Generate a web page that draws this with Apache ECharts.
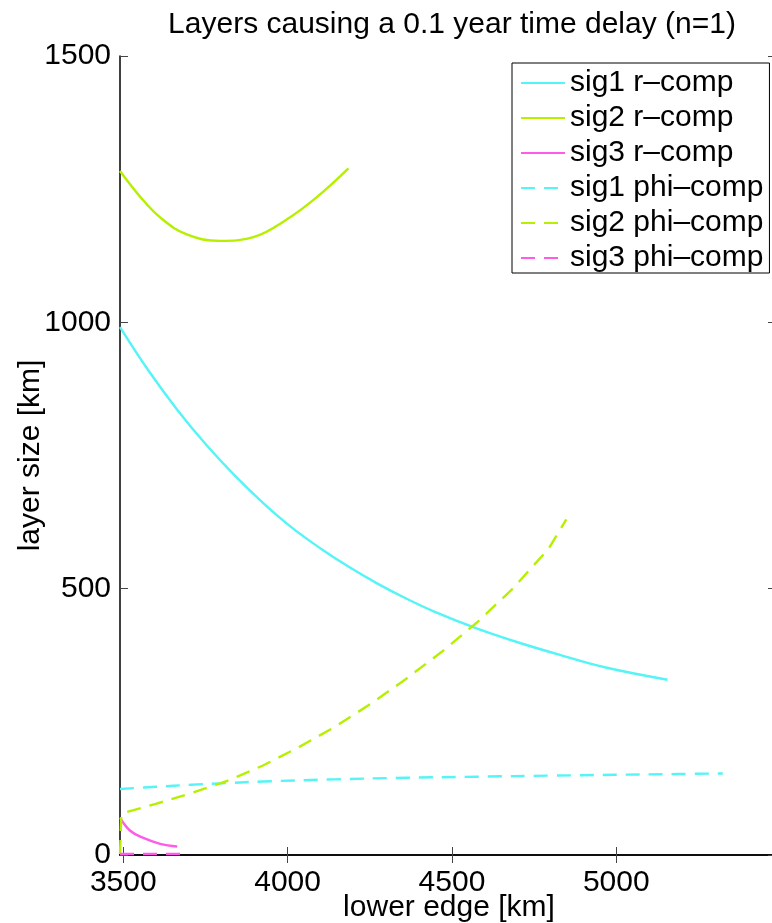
<!DOCTYPE html>
<html>
<head>
<meta charset="utf-8">
<script src="https://cdn.jsdelivr.net/npm/echarts@6/dist/echarts.min.js"></script>
<style>
  html, body { margin: 0; padding: 0; background: #fff; }
  #chart { width: 772px; height: 923px; }
</style>
</head>
<body>
<div id="chart"></div>
<script>
/* Layers causing a 0.1 year time delay */
const xTicks = [3500, 4000, 4500, 5000];
const yTicks = [0, 500, 1000, 1500];

// sig1 r-comp
const sig1rX = [3490, 3577, 3664, 3751, 3838, 3925, 4012, 4099, 4186, 4272, 4359, 4446, 4577, 4707, 4838, 4968, 5156];
const sig1rY = [991, 909, 836, 771, 713, 661, 615, 576, 541, 510, 482, 457, 425, 398, 374, 352, 329];

// sig2 r-comp
const sig2rX = [3490, 3551, 3612, 3693, 3794, 3896, 3997, 4089, 4185];
const sig2rY = [1284, 1236, 1197, 1165, 1153, 1160, 1193, 1235, 1289];

// sig3 r-comp
const sig3rX = [3490, 3520, 3561, 3612, 3664];
const sig3rY = [70, 46, 32, 21, 16];

// sig1 phi-comp
const sig1pX = [3490, 3599, 3707, 3816, 3925, 4142, 4359, 4577, 4794, 5185, 5324];
const sig1pY = [124, 128, 132, 135, 138, 142, 145, 147, 149, 152, 153];

// sig2 phi-comp
const sig2pX = [3490, 3494, 3501, 3599, 3707, 3816, 3925, 4033, 4142, 4251, 4359, 4468, 4577, 4685, 4794, 4848];
const sig2pY = [2, 76, 79, 96, 116, 139, 168, 202, 240, 283, 330, 381, 437, 500, 575, 630];

// sig3 phi-comp
const sig3pX = [3490, 3580, 3678];
const sig3pY = [2, 2, 2];

const cyan = '#55F4F6';
const lime = '#B6F000';
const pink = '#FF5BEA';

const zip = (xs, ys) => xs.map((x, i) => [x, ys[i]]);

let chartDom = document.getElementById('chart');
let myChart = echarts.init(chartDom);

const font = "'Liberation Sans', Arial, sans-serif";

function lineSeries(name, xs, ys, color, dashed, smooth) {
    return {
        name: name,
        type: 'line',
        data: zip(xs, ys),
        symbol: 'none',
        smooth: smooth,
        lineStyle: {
            color: color,
            width: 2.4,
            type: dashed ? [14, 9] : 'solid',
        },
        itemStyle: { color: color },
        emphasis: { disabled: true },
    };
}

const tickStyle = { inside: true, length: 8, lineStyle: { color: '#444', width: 1 } };
const plainNum = (v) => String(v);

let option = {
    animation: false,
    backgroundColor: '#fff',
    title: {
        text: 'Layers causing a 0.1 year time delay (n=1)',
        left: 447,
        top: 5,
        textAlign: 'center',
        textStyle: { fontFamily: font, fontSize: 30, fontWeight: 'normal', color: '#000' },
    },
    grid: { left: 120, top: 56, width: 658, height: 799, outerBoundsMode: 'none' },
    legend: {
        orient: 'vertical',
        left: 512,
        top: 63,
        padding: [5, 6, 0, 8],
        itemGap: 5,
        itemWidth: 44,
        itemHeight: 29,
        borderColor: '#000',
        borderWidth: 1,
        borderRadius: 0,
        backgroundColor: '#fff',
        itemStyle: { opacity: 0 },
        textStyle: { fontFamily: font, fontSize: 30, color: '#000' },
        data: ['sig1 r\u2013comp', 'sig2 r\u2013comp', 'sig3 r\u2013comp', 'sig1 phi\u2013comp', 'sig2 phi\u2013comp', 'sig3 phi\u2013comp'],
    },
    xAxis: [
        {
            type: 'value',
            min: 3490,
            max: 5492,
            name: 'lower edge [km]',
            nameLocation: 'middle',
            nameGap: 38,
            nameMoveOverlap: false,
            nameTextStyle: { fontFamily: font, fontSize: 30, color: '#000' },
            axisLine: { lineStyle: { color: '#000', width: 1.5 } },
            axisTick: Object.assign({ customValues: xTicks }, tickStyle),
            axisLabel: { customValues: xTicks, formatter: plainNum, fontFamily: font, fontSize: 30, color: '#000', margin: 13 },
            splitLine: { show: false },
        },
        {
            type: 'value',
            position: 'top',
            min: 3490,
            max: 5492,
            axisLine: { lineStyle: { color: '#000', width: 1.5 } },
            axisTick: Object.assign({ customValues: xTicks }, tickStyle),
            axisLabel: { show: false },
            splitLine: { show: false },
        },
    ],
    yAxis: [
        {
            type: 'value',
            min: 0,
            max: 1500,
            interval: 500,
            name: 'layer size [km]',
            nameLocation: 'middle',
            nameGap: 74,
            nameMoveOverlap: false,
            nameTextStyle: { fontFamily: font, fontSize: 30, color: '#000' },
            axisLine: { show: true, lineStyle: { color: '#000', width: 1.5 } },
            axisTick: tickStyle,
            axisLabel: { formatter: plainNum, fontFamily: font, fontSize: 30, color: '#000', margin: 9 },
            splitLine: { show: false },
        },
        {
            type: 'value',
            position: 'right',
            min: 0,
            max: 1500,
            interval: 500,
            axisLine: { show: true, lineStyle: { color: '#000', width: 1.5 } },
            axisTick: { inside: true, length: 10, lineStyle: { color: '#444', width: 1 } },
            axisLabel: { show: false },
            splitLine: { show: false },
        },
    ],
    series: [
        lineSeries('sig1 r\u2013comp', sig1rX, sig1rY, cyan, false, 0.4),
        lineSeries('sig2 r\u2013comp', sig2rX, sig2rY, lime, false, 0.4),
        lineSeries('sig3 r\u2013comp', sig3rX, sig3rY, pink, false, 0.4),
        lineSeries('sig1 phi\u2013comp', sig1pX, sig1pY, cyan, true, 0.4),
        lineSeries('sig2 phi\u2013comp', sig2pX, sig2pY, lime, true, false),
        lineSeries('sig3 phi\u2013comp', sig3pX, sig3pY, pink, true, false),
    ],
};

option && myChart.setOption(option);
</script>
</body>
</html>
